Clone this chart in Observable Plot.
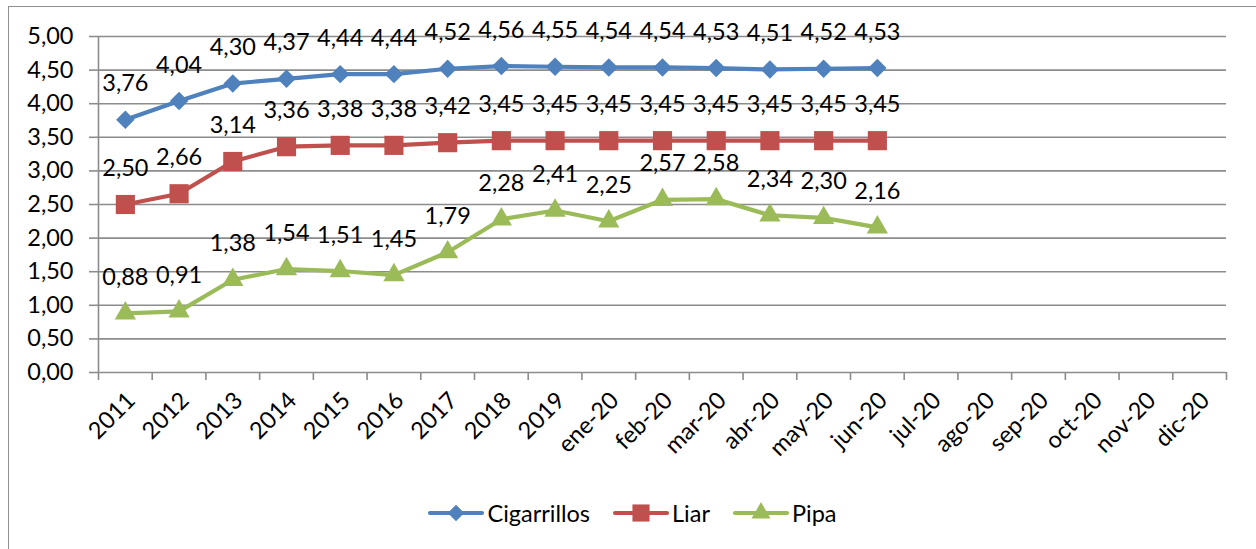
<!DOCTYPE html>
<html><head><meta charset="utf-8">
<script src="https://cdn.jsdelivr.net/npm/d3@7"></script>
<script src="https://cdn.jsdelivr.net/npm/@observablehq/plot@0.6"></script>
<style>
body{margin:0;background:#fff;font-family:Lato,"Open Sans",sans-serif;width:1256px;height:549px;overflow:hidden;position:relative;}
#frame{position:absolute;left:8px;top:6px;width:1270px;height:570px;border:1px solid #909090;box-sizing:border-box;}
#chart{position:absolute;left:0;top:0;}
#legend{position:absolute;left:0;width:1256px;top:496px;height:34px;display:flex;justify-content:center;align-items:center;font-size:23.5px;color:#000;padding-left:8px;box-sizing:border-box;}
#legend .item{display:flex;align-items:center;margin:0 11px;}
#legend svg{margin-right:2px;}
</style>
</head><body>
<div id="frame"></div>
<div id="chart"></div>
<div id="legend"></div>
<script>
const categories = ["2011","2012","2013","2014","2015","2016","2017","2018","2019","ene-20","feb-20","mar-20","abr-20","may-20","jun-20","jul-20","ago-20","sep-20","oct-20","nov-20","dic-20"];
const cigarrillos = [3.76,4.04,4.30,4.37,4.44,4.44,4.52,4.56,4.55,4.54,4.54,4.53,4.51,4.52,4.53];
const liar = [2.50,2.66,3.14,3.36,3.38,3.38,3.42,3.45,3.45,3.45,3.45,3.45,3.45,3.45,3.45];
const pipa = [0.88,0.91,1.38,1.54,1.51,1.45,1.79,2.28,2.41,2.25,2.57,2.58,2.34,2.30,2.16];
const seriesNames = ["Cigarrillos","Liar","Pipa"];
const seriesColors = ["#4F81BD","#C0504D","#9BBB59"];
const seriesSymbols = ["diamond2","square","triangle"];
const seriesR = [8.3,10.8,7.9];
const yTicks = [0,0.5,1,1.5,2,2.5,3,3.5,4,4.5,5];

const allSeries = [cigarrillos, liar, pipa];
const rows = [];
allSeries.forEach((vals, s) => vals.forEach((v, i) => rows.push({series: seriesNames[s], s, i: i + 0.5, v})));

const fmt = d => d.toFixed(2).replace(".", ",");
const grey = "#8c8c8c";
const FONT = 23.5;

const marks = [
  Plot.gridY(yTicks, {stroke: grey, strokeOpacity: 1, strokeWidth: 1.6}),
  Plot.ruleX([0], {stroke: grey, strokeWidth: 1.6}),
  Plot.axisY(yTicks, {tickFormat: fmt, tickSize: 9, tickPadding: 16, stroke: grey, strokeWidth: 1.6, fontSize: FONT, fill: "#000", label: null}),
  Plot.axisX(d3.range(0, categories.length + 1), {tickFormat: () => "", tickSize: 8, stroke: grey, strokeWidth: 1.6, label: null}),
  Plot.axisX(d3.range(categories.length).map(i => i + 0.5), {tickFormat: (d) => categories[Math.floor(d)], tickSize: 0, tickPadding: 24, tickRotate: -45, fontSize: FONT, fill: "#000", dx: 6, label: null})
];
seriesNames.forEach((name, s) => {
  const data = rows.filter(r => r.s === s);
  marks.push(Plot.line(data, {x: "i", y: "v", stroke: seriesColors[s], strokeWidth: 4.2, curve: "linear"}));
  marks.push(Plot.dot(data, {x: "i", y: "v", symbol: seriesSymbols[s], r: seriesR[s], fill: seriesColors[s], stroke: "none"}));
});
marks.push(Plot.text(rows, {x: "i", y: "v", text: d => fmt(d.v), dy: -36, fontSize: FONT, fill: "#000", lineAnchor: "middle"}));

const chart = Plot.plot({
  width: 1256,
  height: 480,
  marginLeft: 98,
  marginRight: 30,
  marginTop: 36,
  marginBottom: 108,
  style: {fontFamily: "Lato, 'Open Sans', sans-serif", background: "transparent", overflow: "visible"},
  x: {type: "linear", domain: [0, categories.length], axis: null},
  y: {type: "linear", domain: [0, 5], axis: null},
  marks
});
document.getElementById("chart").appendChild(chart);

const legend = document.getElementById("legend");
seriesNames.forEach((name, s) => {
  const item = document.createElement("div");
  item.className = "item";
  const sym = d3.symbol(d3["symbol" + {diamond2: "Diamond2", square: "Square", triangle: "Triangle"}[seriesSymbols[s]]], Math.PI * seriesR[s] * seriesR[s] * 0.8)();
  item.innerHTML = `<svg width="58" height="24" viewBox="-29 -12 58 24"><line x1="-26" x2="26" y1="0" y2="0" stroke="${seriesColors[s]}" stroke-width="4.2" stroke-linecap="round"/><path d="${sym}" fill="${seriesColors[s]}"/></svg><span>${name}</span>`;
  legend.appendChild(item);
});
</script>
</body></html>
